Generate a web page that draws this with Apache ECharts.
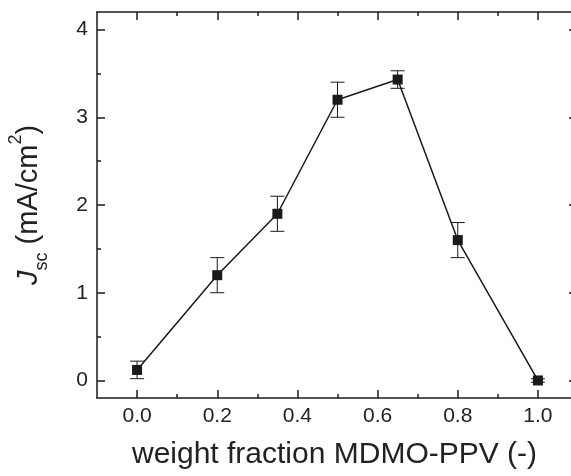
<!DOCTYPE html>
<html lang="en">
<head>
  <meta charset="UTF-8">
  <title>Jsc vs weight fraction</title>
  <script src="https://cdn.jsdelivr.net/npm/echarts@6/dist/echarts.min.js"></script>
  <style>
    html, body { margin: 0; padding: 0; background: #fff; }
    #chart { width: 571px; height: 476px; }
  </style>
</head>
<body>
  <div id="chart"></div>
  <script>
    // data
    var fraction = [0.0, 0.2, 0.35, 0.5, 0.65, 0.8, 1.0]
    var jsc = [0.12, 1.2, 1.9, 3.2, 3.43, 1.6, 0.0]
    var jscErr = [0.1, 0.2, 0.2, 0.2, 0.1, 0.2, 0.02]

    var xMajor = [0, 0.2, 0.4, 0.6, 0.8, 1.0]
    var xMinor = [0.1, 0.3, 0.5, 0.7, 0.9]
    var yMajor = [0, 1, 2, 3, 4]
    var yMinor = [0.5, 1.5, 2.5, 3.5]

    var ink = '#1a1a1a'
    var font = 'Liberation Sans, Arial, Helvetica, sans-serif'

    var points = fraction.map(function (x, i) { return [x, jsc[i]] })
    var bars = fraction.map(function (x, i) { return [x, jsc[i] - jscErr[i], jsc[i] + jscErr[i]] })

    function xAx (pos, ticks, len, opts) {
      return Object.assign({
        type: 'value', position: pos, min: -0.1, max: 1.085,
        axisLine: { show: false, onZero: false },
        axisTick: { show: true, inside: true, length: len, customValues: ticks, lineStyle: { color: ink, width: 1.5 } },
        axisLabel: { show: false },
        splitLine: { show: false }
      }, opts || {})
    }
    function yAx (pos, ticks, len, opts) {
      return Object.assign({
        type: 'value', position: pos, min: -0.2, max: 4.2,
        axisLine: { show: false, onZero: false },
        axisTick: { show: true, inside: true, length: len, customValues: ticks, lineStyle: { color: ink, width: 1.5 } },
        axisLabel: { show: false },
        splitLine: { show: false }
      }, opts || {})
    }

    var chart = echarts.init(document.getElementById('chart'))
    chart.setOption({
      animation: false,
      backgroundColor: '#fff',
      grid: { left: 97, top: 12, width: 475, height: 386, outerBoundsMode: 'none', containLabel: false },
      xAxis: [
        xAx('bottom', xMajor, 8, {
          axisLine: { show: true, onZero: false, lineStyle: { color: ink, width: 1.5 } },
          axisLabel: {
            show: true, customValues: xMajor, margin: 8, fontSize: 21, color: '#222', fontFamily: font,
            formatter: function (v) { return v.toFixed(1) }
          },
          name: 'weight fraction MDMO-PPV (-)',
          nameLocation: 'middle',
          nameGap: 42,
          nameTextStyle: { fontSize: 30, color: '#222', fontFamily: font }
        }),
        xAx('bottom', xMinor, 4),
        xAx('top', xMajor, 8, { axisLine: { show: true, onZero: false, lineStyle: { color: ink, width: 1.5 } } }),
        xAx('top', xMinor, 4)
      ],
      yAxis: [
        yAx('left', yMajor, 8, {
          axisLine: { show: true, onZero: false, lineStyle: { color: ink, width: 1.5 } },
          axisLabel: { show: true, customValues: yMajor, margin: 9, fontSize: 21, color: '#222', fontFamily: font },
          name: '{j|J}{sub|sc}{n| (mA/cm}{sup|2}{n|)}',
          nameLocation: 'middle',
          nameRotate: 90,
          nameGap: 46,
          nameTextStyle: {
            color: '#222', fontFamily: font,
            rich: {
              j: { fontSize: 29, lineHeight: 44, fontStyle: 'italic', color: '#222', fontFamily: font },
              n: { fontSize: 29, lineHeight: 44, color: '#222', fontFamily: font },
              sub: { fontSize: 18, lineHeight: 18, color: '#222', fontFamily: font, verticalAlign: 'bottom' },
              sup: { fontSize: 18, lineHeight: 18, color: '#222', fontFamily: font, verticalAlign: 'top' }
            }
          }
        }),
        yAx('left', yMinor, 4),
        yAx('right', yMajor, 3, { axisLine: { show: true, onZero: false, lineStyle: { color: ink, width: 1.5 } } })
      ],
      series: [
        {
          type: 'custom',
          xAxisIndex: 0,
          yAxisIndex: 0,
          z: 2,
          data: bars,
          renderItem: function (params, api) {
            var x = api.value(0)
            var lo = api.coord([x, api.value(1)])
            var hi = api.coord([x, api.value(2)])
            var cap = 7
            var st = { stroke: ink, lineWidth: 1 }
            return {
              type: 'group',
              children: [
                { type: 'line', shape: { x1: lo[0], y1: lo[1], x2: hi[0], y2: hi[1] }, style: st },
                { type: 'line', shape: { x1: lo[0] - cap, y1: lo[1], x2: lo[0] + cap, y2: lo[1] }, style: st },
                { type: 'line', shape: { x1: hi[0] - cap, y1: hi[1], x2: hi[0] + cap, y2: hi[1] }, style: st }
              ]
            }
          }
        },
        {
          type: 'line',
          xAxisIndex: 0,
          yAxisIndex: 0,
          z: 3,
          data: points,
          symbol: 'rect',
          symbolSize: 10,
          itemStyle: { color: ink },
          lineStyle: { color: ink, width: 1.5 }
        }
      ]
    })
  </script>
</body>
</html>
